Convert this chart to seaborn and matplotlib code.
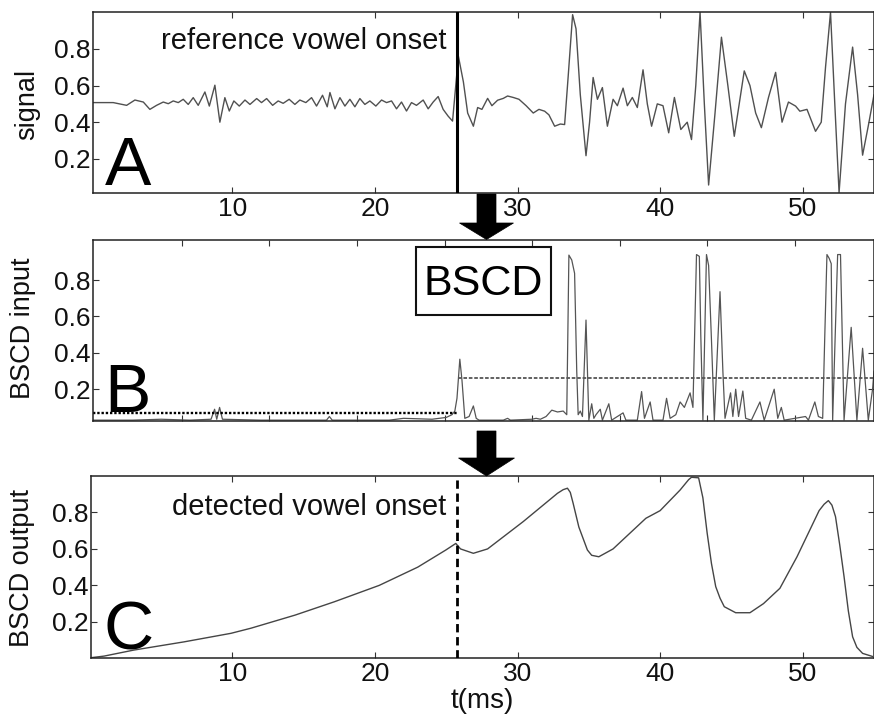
import matplotlib
matplotlib.use("Agg")
import matplotlib.pyplot as plt
import seaborn as sns
from matplotlib.patches import Polygon, Rectangle
from matplotlib.transforms import Affine2D

# ---------------- data ----------------
t_signal = [0.2, 1.64, 2.58, 3.16, 3.75, 4.21, 4.68, 5.15, 5.50, 5.85, 6.20, 6.55, 6.90,
            7.25, 7.60, 8.07, 8.38, 8.77, 9.12, 9.47, 9.78, 10.10, 10.48, 10.88, 11.23,
            11.70, 12.04, 12.40, 12.82, 13.21, 13.56, 13.98, 14.38, 14.73, 15.15, 15.55,
            15.90, 16.32, 16.65, 16.84, 17.19, 17.54, 17.89, 18.24, 18.59, 18.94, 19.29,
            19.64, 20.06, 20.46, 20.81, 21.16, 21.51, 21.86, 22.21, 22.56, 22.91, 23.38,
            23.73, 24.08, 24.43, 24.78, 25.13, 25.44, 25.85, 26.2, 26.5, 26.9, 27.2, 27.5,
            27.9, 28.2, 28.6, 29.0, 29.3, 29.7, 30.1, 30.6, 31.1, 31.5, 31.9, 32.2, 32.6,
            33.0, 33.3, 33.55, 33.86, 34.1, 34.4, 34.8, 35.05, 35.3, 35.6, 35.95, 36.3,
            36.7, 37.0, 37.4, 37.7, 38.05, 38.4, 38.8, 39.1, 39.4, 39.8, 40.2, 40.6, 41.0,
            41.45, 41.9, 42.2, 42.5, 42.8, 43.1, 43.4, 43.85, 44.3, 44.75, 45.2, 45.55,
            45.9, 46.3, 46.7, 47.1, 47.6, 48.1, 48.55, 49.0, 49.5, 49.8, 50.3, 50.9, 51.3,
            51.6, 51.95, 52.25, 52.55, 53.0, 53.5, 53.85, 54.2, 54.6, 54.9, 55.0]
signal = [0.507, 0.507, 0.492, 0.521, 0.510, 0.470, 0.492, 0.510, 0.501, 0.516, 0.507,
          0.525, 0.497, 0.534, 0.492, 0.565, 0.488, 0.602, 0.400, 0.534, 0.461, 0.516,
          0.488, 0.521, 0.497, 0.529, 0.507, 0.529, 0.492, 0.516, 0.503, 0.525, 0.497,
          0.521, 0.507, 0.534, 0.488, 0.547, 0.484, 0.562, 0.473, 0.534, 0.488, 0.525,
          0.484, 0.529, 0.497, 0.516, 0.488, 0.521, 0.507, 0.516, 0.473, 0.510, 0.461,
          0.507, 0.492, 0.521, 0.473, 0.510, 0.540, 0.470, 0.433, 0.406, 0.760, 0.620,
          0.450, 0.378, 0.480, 0.470, 0.530, 0.490, 0.520, 0.530, 0.543, 0.535, 0.525,
          0.490, 0.450, 0.470, 0.460, 0.440, 0.378, 0.390, 0.387, 0.650, 0.987, 0.910,
          0.550, 0.217, 0.400, 0.644, 0.525, 0.589, 0.378, 0.525, 0.490, 0.586, 0.490,
          0.535, 0.480, 0.686, 0.500, 0.378, 0.500, 0.490, 0.342, 0.535, 0.360, 0.400,
          0.305, 0.600, 1.000, 0.500, 0.057, 0.450, 0.864, 0.600, 0.323, 0.500, 0.680,
          0.600, 0.450, 0.370, 0.535, 0.672, 0.400, 0.510, 0.488, 0.460, 0.470, 0.350,
          0.400, 0.700, 1.000, 0.500, 0.015, 0.500, 0.810, 0.550, 0.220, 0.380, 0.510,
          0.550]

t_input = [0.2, 3.0, 5.0, 7.0, 8.5, 8.75, 8.9, 9.1, 9.3, 12.0, 16.6, 16.8, 17.0, 21.0,
           22.0, 24.0, 25.0, 25.4, 25.6, 25.75, 25.95, 26.1, 26.3, 26.6, 26.9, 27.1, 27.3,
           29.0, 29.3, 29.5, 31.0, 31.3, 31.6, 32.0, 32.4, 32.8, 33.2, 33.45, 33.6, 33.8,
           34.0, 34.15, 34.25, 34.4, 34.55, 34.8, 35.0, 35.2, 35.35, 35.5, 35.8, 35.95,
           36.4, 36.6, 37.4, 37.6, 38.4, 38.7, 38.9, 39.3, 39.5, 40.2, 40.45, 40.7, 41.1,
           41.4, 41.7, 42.1, 42.3, 42.55, 42.75, 42.85, 43.0, 43.25, 43.4, 43.6, 43.8,
           44.2, 44.4, 44.55, 44.94, 45.1, 45.3, 45.5, 45.8, 46.0, 46.4, 47.0, 47.3, 48.0,
           48.25, 48.5, 48.7, 50.2, 50.4, 50.85, 51.1, 51.4, 51.55, 51.7, 51.85, 52.0,
           52.1, 52.45, 52.65, 52.9, 53.4, 53.8, 54.2, 54.6, 54.9, 55.0]
bscd_input = [0.03, 0.03, 0.035, 0.03, 0.035, 0.09, 0.035, 0.10, 0.035, 0.03, 0.03, 0.05,
              0.03, 0.03, 0.04, 0.035, 0.045, 0.06, 0.08, 0.15, 0.365, 0.25, 0.04, 0.05,
              0.108, 0.04, 0.03, 0.03, 0.04, 0.03, 0.035, 0.04, 0.035, 0.05, 0.085, 0.075,
              0.08, 0.06, 0.937, 0.91, 0.837, 0.30, 0.06, 0.08, 0.05, 0.58, 0.03, 0.12, 0.04,
              0.06, 0.09, 0.03, 0.12, 0.03, 0.07, 0.03, 0.03, 0.187, 0.04, 0.13, 0.03, 0.03,
              0.15, 0.04, 0.06, 0.13, 0.10, 0.18, 0.10, 0.94, 0.93, 0.50, 0.03, 0.94, 0.88,
              0.47, 0.03, 0.736, 0.30, 0.04, 0.18, 0.05, 0.20, 0.05, 0.19, 0.04, 0.03, 0.13,
              0.03, 0.20, 0.04, 0.10, 0.03, 0.05, 0.03, 0.13, 0.05, 0.04, 0.50, 0.94, 0.92,
              0.89, 0.03, 0.94, 0.94, 0.03, 0.54, 0.03, 0.425, 0.03, 0.20, 0.30]

threshold_t = [0.2, 25.8, 55.0]
thresholds = [0.068, 0.264]

t_output = [0.05, 1.0, 3.08, 6.6, 9.9, 11.3, 14.4, 17.15, 20.3, 23.0, 24.97, 25.67, 26.0,
            26.9, 27.9, 30.4, 32.8, 33.2, 33.5, 33.7, 33.9, 34.3, 34.9, 35.2, 35.7, 36.7,
            39.0, 40.0, 41.4, 42.0, 42.2, 42.7, 43.0, 43.3, 43.6, 43.9, 44.2, 44.5, 45.3,
            46.3, 47.25, 48.4, 49.6, 51.15, 51.5, 51.8, 52.05, 52.3, 52.6, 52.9, 53.2,
            53.5, 53.8, 54.2, 54.9]
bscd_output = [0.003, 0.012, 0.045, 0.09, 0.137, 0.165, 0.237, 0.31, 0.40, 0.50, 0.594,
               0.63, 0.60, 0.576, 0.60, 0.75, 0.905, 0.925, 0.933, 0.91, 0.85, 0.72, 0.594,
               0.565, 0.557, 0.60, 0.768, 0.81, 0.923, 0.98, 0.993, 0.99, 0.88, 0.686,
               0.52, 0.393, 0.33, 0.283, 0.25, 0.25, 0.30, 0.384, 0.557, 0.81, 0.845, 0.865,
               0.84, 0.777, 0.62, 0.448, 0.26, 0.118, 0.06, 0.027, 0.01]

onset_t = 25.75
x_ticks = [10, 20, 30, 40, 50]
x_tick_labels = ["10", "20", "30", "40", "50"]
b_x_ticks = [6.45, 12.6, 18.75, 24.9, 31.0, 37.15, 43.3, 49.45]
y_ticks = [0.2, 0.4, 0.6, 0.8]
y_tick_labels = ["0.2", "0.4", "0.6", "0.8"]

# ---------------- figure ----------------
sns.set_theme(style="white")
plt.rcParams['font.family'] = ['Liberation Sans', 'DejaVu Sans']

W, H = 874, 722
fig = plt.figure(figsize=(W / 100, H / 100), dpi=100)
fig.patch.set_facecolor("white")
px = Affine2D().scale(1 / W, -1 / H).translate(0, 1) + fig.transFigure


def box(l, t, r, b):
    return [l / W, 1 - b / H, (r - l) / W, (b - t) / H]


axA = fig.add_axes(box(92.7, 12.3, 874.0, 192.7))
axB = fig.add_axes(box(92.7, 240.0, 874.0, 420.7))
axC = fig.add_axes(box(90.5, 476.0, 874.0, 658.3))


def style(ax):
    for s in ax.spines.values():
        s.set_visible(True)
        s.set_color("#222222")
        s.set_linewidth(1.1)
    ax.tick_params(direction="in", bottom=True, top=True, left=True, right=True,
                   length=4, width=0.8, color="#333333", labelsize=19,
                   labelcolor="#111111")
    ax.tick_params(axis="y", pad=1.5)
    ax.tick_params(axis="x", pad=3)
    ax.set_yticks(y_ticks)
    ax.set_yticklabels(y_tick_labels)
    ax.set_facecolor("white")
    ax.grid(False)


# Panel A
sns.lineplot(x=t_signal, y=signal, ax=axA, color="#505050", linewidth=1.0,
             estimator=None)
axA.axvline(onset_t, color="black", linewidth=2.2, zorder=5)
style(axA)
axA.set_xlim(0.2, 55.0)
axA.set_ylim(0.015, 1.0)
axA.set_xticks(x_ticks)
axA.set_xticklabels(x_tick_labels)
axA.set_ylabel("signal", fontsize=19.5, color="#111111")
axA.yaxis.label.set_va("center")
axA.yaxis.set_label_coords(-0.084, 0.49)
axA.text(25.0, 0.845, "reference vowel onset", ha="right", va="center",
         fontsize=21, color="#111111")
axA.text(0.0155, 0.043, "A", transform=axA.transAxes, ha="left", va="baseline",
         fontsize=50, color="black")

# Panel B
sns.lineplot(x=t_input, y=bscd_input, ax=axB, color="#555555", linewidth=0.9,
             estimator=None)
axB.plot(threshold_t[0:2], [thresholds[0]] * 2, color="black", linewidth=1.7,
         linestyle=(0, (1, 0.8)))
axB.plot(threshold_t[1:3], [thresholds[1]] * 2, color="#555555", linewidth=1.3,
         linestyle=(0, (2, 1)))
style(axB)
axB.set_xlim(0.2, 55.0)
axB.set_ylim(0.027, 1.02)
axB.set_xticks(b_x_ticks)
axB.set_xticklabels([""] * len(b_x_ticks))
axB.set_ylabel("BSCD input", fontsize=19.5, color="#111111")
axB.yaxis.label.set_va("center")
axB.yaxis.set_label_coords(-0.0886, 0.51)
axB.text(0.015, 0.048, "B", transform=axB.transAxes, ha="left", va="baseline",
         fontsize=50, color="black")

# Panel C
sns.lineplot(x=t_output, y=bscd_output, ax=axC, color="#454545", linewidth=1.0,
             estimator=None)
axC.axvline(onset_t, color="black", linewidth=2.0, linestyle=(0, (3, 1.7)), zorder=5)
style(axC)
axC.set_xlim(0.05, 55.0)
axC.set_ylim(0.0, 1.0)
axC.set_xticks(x_ticks)
axC.set_xticklabels(x_tick_labels)
axC.set_ylabel("BSCD output", fontsize=19.5, color="#111111")
axC.yaxis.label.set_va("center")
axC.yaxis.set_label_coords(-0.087, 0.495)
axC.set_xlabel("t(ms)", fontsize=20, color="#111111")
axC.xaxis.set_label_coords(0.5, -0.163)
axC.text(25.0, 0.83, "detected vowel onset", ha="right", va="center",
         fontsize=21, color="#111111")
axC.text(0.0166, 0.046, "C", transform=axC.transAxes, ha="left", va="baseline",
         fontsize=50, color="black")


# ---------------- decorations: arrows and BSCD box ----------------
def arrow(cx, y0, y_head, y_tip, shaft_w, head_w):
    pts = [(cx - shaft_w / 2, y0), (cx + shaft_w / 2, y0), (cx + shaft_w / 2, y_head),
           (cx + head_w / 2, y_head), (cx, y_tip), (cx - head_w / 2, y_head),
           (cx - shaft_w / 2, y_head)]
    fig.add_artist(Polygon(pts, closed=True, transform=px, facecolor="black",
                           edgecolor="black", linewidth=0.5, zorder=10))


arrow(486.5, 194, 223, 239.5, 19, 54)
arrow(486.5, 431, 458, 476, 19, 56)

fig.add_artist(Rectangle((416, 247), 135, 68, transform=px, facecolor="white",
                         edgecolor="#111111", linewidth=1.5, zorder=10))
fig.text(483.5, 295, "BSCD", transform=px, ha="center", va="baseline",
         fontsize=31, color="black", zorder=11)

fig.savefig("out.png", dpi=100, facecolor="white")
